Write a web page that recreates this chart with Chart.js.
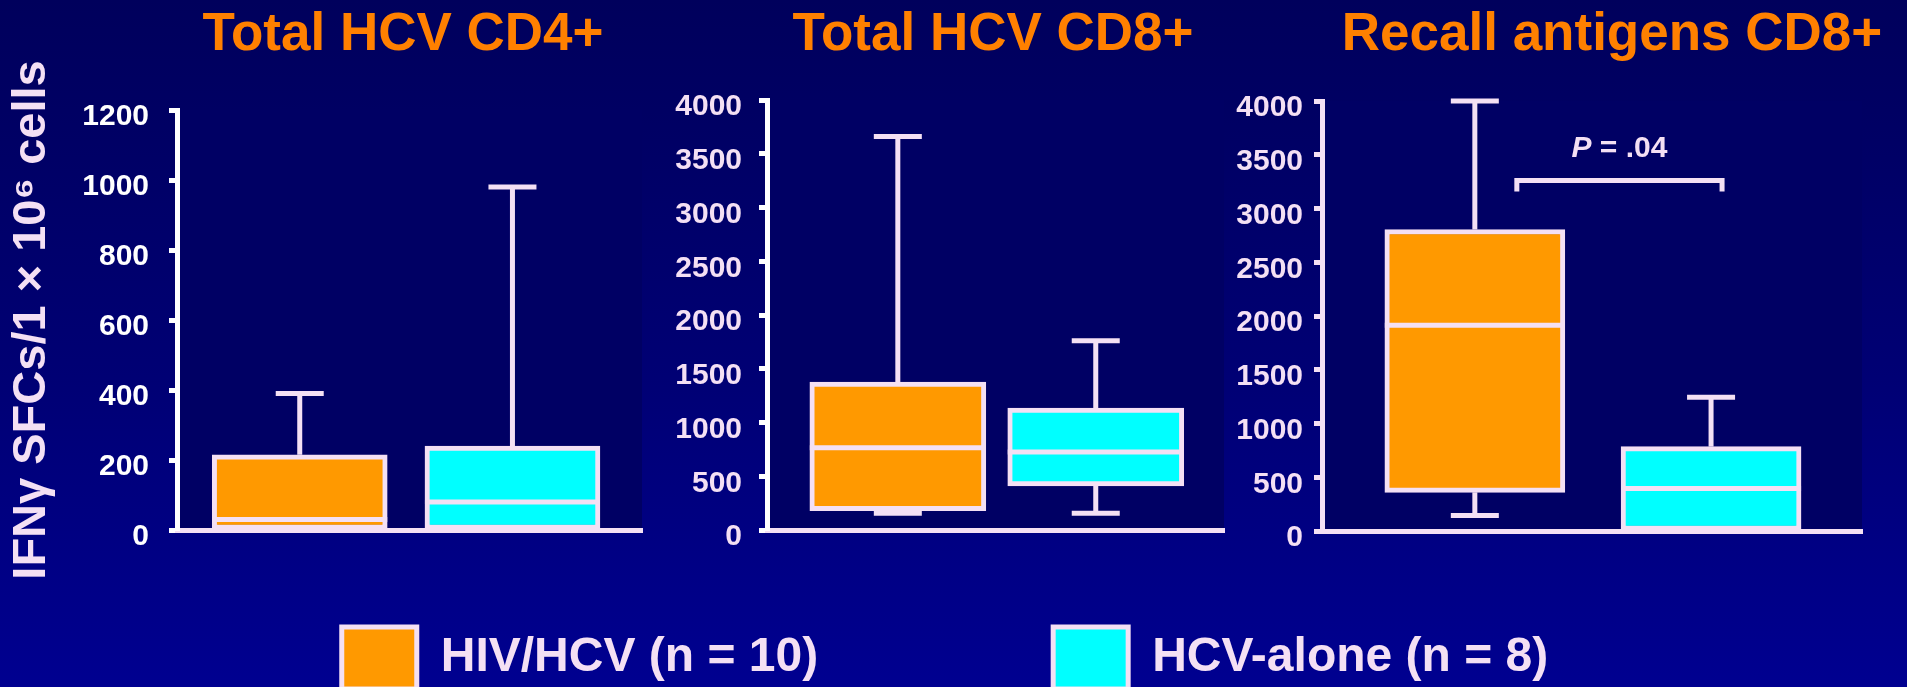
<!DOCTYPE html>
<html>
<head>
<meta charset="utf-8">
<title>IFN-gamma SFCs box plots</title>
<script src="https://cdn.jsdelivr.net/npm/chart.js@4.4.1/dist/chart.umd.min.js"></script>
<style>
  html, body {
    margin: 0;
    width: 1907px;
    height: 687px;
    overflow: hidden;
    background: linear-gradient(to bottom, #00005c 0%, #000074 55%, #000090 100%);
  }
  canvas { position: absolute; }
</style>
</head>
<body>
<canvas id="cd4" width="806" height="687" style="left:0;top:0"></canvas>
<canvas id="cd8" width="666" height="687" style="left:660px;top:0"></canvas>
<canvas id="recall" width="774" height="687" style="left:1225px;top:0"></canvas>
<canvas id="legend" width="1890" height="1200" style="left:0;top:392px"></canvas>
<script>
const groups = ['HIV/HCV (n = 10)', 'HCV-alone (n = 8)'];
const titles = ['Total HCV CD4+', 'Total HCV CD8+', 'Recall antigens CD8+'];
const yLabel = 'IFN\u03b3 SFCs/1 \u00d7 10\u2076 cells';

// box stats: [min, q1, median, q3, max]
const cd4HivHcv = [0, 0, 30, 215, 390];
const cd4HcvAlone = [0, 0, 80, 240, 980];
const cd8HivHcv = [155, 180, 765, 1375, 3660];
const cd8HcvAlone = [155, 410, 725, 1135, 1760];
const recallHivHcv = [145, 360, 1915, 2805, 4000];
const recallHcvAlone = [0, 0, 395, 785, 1245];

const yMax = [1200, 4000, 4000];
const yStep = [200, 500, 500];

// significance bracket on the recall panel
const pLabel = ' = .04';
const pBracketAt = 3260;

const ORANGE = '#ff9900';
const CYAN = '#00ffff';
const LINE = '#f4e0f4';
const TITLE = '#ff8000';
const PLOT_BG = '#000064';
const FONT = 'Arial, "Liberation Sans", Helvetica, sans-serif';
const TITLE_SIZE = 53;

const boxPlot = {
    id: 'boxPlot',
    beforeDraw(chart) {
        const a = chart.chartArea;
        const ctx = chart.ctx;
        ctx.save();
        ctx.fillStyle = PLOT_BG;
        ctx.fillRect(a.left, a.top, a.right - a.left, a.bottom - a.top);
        ctx.restore();
    },
    afterDatasetsDraw(chart) {
        const ctx = chart.ctx;
        const y = chart.scales.y;
        ctx.save();
        ctx.strokeStyle = LINE;
        ctx.lineWidth = 5;
        ctx.lineCap = 'butt';
        chart.data.datasets.forEach((ds, i) => {
            const bar = chart.getDatasetMeta(i).data[0];
            const s = ds.stats;
            const cx = bar.x;
            const half = bar.width / 2;
            const line = (x1, y1, x2, y2) => {
                ctx.beginPath();
                ctx.moveTo(x1, y1);
                ctx.lineTo(x2, y2);
                ctx.stroke();
            };
            // median
            const med = y.getPixelForValue(s[2]);
            line(cx - half, med, cx + half, med);
            // upper whisker
            if (s[4] > s[3]) {
                const top = y.getPixelForValue(s[4]);
                line(cx, y.getPixelForValue(s[3]), cx, top);
                line(cx - 24, top, cx + 24, top);
            }
            // lower whisker
            if (s[0] < s[1]) {
                const bot = y.getPixelForValue(s[0]);
                line(cx, y.getPixelForValue(s[1]), cx, bot);
                line(cx - 24, bot, cx + 24, bot);
            }
        });
        ctx.restore();
    }
};

const pValue = {
    id: 'pValue',
    afterDatasetsDraw(chart) {
        const ctx = chart.ctx;
        const x = chart.scales.x, y = chart.scales.y;
        const l = x.getPixelForValue(0) + 42;
        const r = x.getPixelForValue(1) + 11;
        const yy = y.getPixelForValue(pBracketAt);
        ctx.save();
        ctx.strokeStyle = LINE;
        ctx.lineWidth = 5;
        ctx.beginPath();
        ctx.moveTo(l, yy + 11);
        ctx.lineTo(l, yy);
        ctx.lineTo(r, yy);
        ctx.lineTo(r, yy + 11);
        ctx.stroke();

        ctx.fillStyle = LINE;
        ctx.textBaseline = 'middle';
        ctx.textAlign = 'left';
        ctx.font = 'italic bold 30px ' + FONT;
        const wP = ctx.measureText('P').width;
        ctx.font = 'bold 30px ' + FONT;
        const wRest = ctx.measureText(pLabel).width;
        let tx = (l + r) / 2 - (wP + wRest) / 2;
        ctx.font = 'italic bold 30px ' + FONT;
        ctx.fillText('P', tx, yy - 32);
        ctx.font = 'bold 30px ' + FONT;
        ctx.fillText(pLabel, tx + wP, yy - 32);
        ctx.restore();
    }
};

function makePanel(id, p) {
    const yAxis = {
        min: 0,
        max: p.yMax,
        afterFit: s => { s.width = p.yW; },
        ticks: {
            stepSize: p.yStep,
            color: p.tickColor,
            padding: p.tickPad,
            labelOffset: 7,
            font: { family: FONT, size: 30, weight: 'bold' },
            callback: v => String(v)
        },
        grid: { drawOnChartArea: false, drawTicks: true, tickLength: 8, tickWidth: 5, tickColor: p.axisColor },
        border: { display: true, color: p.axisColor, width: 5 }
    };
    if (p.yTitle) {
        yAxis.title = {
            display: true,
            text: p.yTitle,
            color: LINE,
            padding: { top: 4, bottom: 0 },
            font: { family: FONT, size: 47, weight: 'bold' }
        };
    }

    return new Chart(document.getElementById(id), {
        type: 'bar',
        data: {
            datasets: p.stats.map((s, i) => ({
                label: groups[i],
                data: [{ x: i, y: [s[1], s[3]] }],
                stats: s,
                backgroundColor: i ? CYAN : ORANGE,
                borderColor: LINE,
                borderWidth: 5,
                borderSkipped: false,
                barThickness: p.barW,
                grouped: false
            }))
        },
        options: {
            responsive: false,
            animation: false,
            events: [],
            layout: { padding: { bottom: 687 - p.bottom } },
            plugins: {
                legend: { display: false },
                tooltip: { enabled: false },
                title: {
                    display: true,
                    text: p.title,
                    color: TITLE,
                    font: { family: FONT, size: TITLE_SIZE, weight: 'bold' },
                    padding: { top: 4, bottom: p.top - 4 - TITLE_SIZE * 1.2 }
                }
            },
            scales: {
                x: {
                    type: 'linear',
                    min: p.xMin,
                    max: p.xMax,
                    offset: false,
                    afterFit: s => { s.height = 0; },
                    ticks: { display: false },
                    grid: { display: false },
                    border: { display: true, color: LINE, width: 5 }
                },
                y: yAxis,
                // empty right-hand strip so the centred title lands where the slide has it
                yr: {
                    position: 'right',
                    afterFit: s => { s.width = p.rightW; },
                    ticks: { display: false },
                    grid: { display: false },
                    border: { display: false }
                }
            }
        },
        plugins: p.extra ? [boxPlot, p.extra] : [boxPlot]
    });
}

makePanel('cd4', {
    title: titles[0], stats: [cd4HivHcv, cd4HcvAlone],
    yMax: yMax[0], yStep: yStep[0], yTitle: yLabel,
    yW: 177, rightW: 164, top: 110, bottom: 530,
    xMin: -0.577, xMax: 1.609, barW: 175,
    tickColor: '#ffffff', axisColor: '#ffffff', tickPad: 20
});

makePanel('cd8', {
    title: titles[1], stats: [cd8HivHcv, cd8HcvAlone],
    yMax: yMax[1], yStep: yStep[1],
    yW: 107, rightW: 102, top: 100, bottom: 530,
    xMin: -0.661, xMax: 1.648, barW: 176,
    tickColor: LINE, axisColor: '#ffffff', tickPad: 17
});

makePanel('recall', {
    title: titles[2], stats: [recallHivHcv, recallHcvAlone],
    yMax: yMax[2], yStep: yStep[2],
    yW: 97, rightW: 137, top: 101, bottom: 531,
    xMin: -0.647, xMax: 1.639, barW: 180,
    tickColor: LINE, axisColor: LINE, tickPad: 11, extra: pValue
});

new Chart(document.getElementById('legend'), {
    type: 'bar',
    data: {
        datasets: groups.map((g, i) => ({
            label: g,
            data: [],
            backgroundColor: i ? CYAN : ORANGE,
            borderColor: LINE,
            borderWidth: 5
        }))
    },
    options: {
        responsive: false,
        animation: false,
        events: [],
        scales: { x: { display: false }, y: { display: false } },
        plugins: {
            tooltip: { enabled: false },
            legend: {
                position: 'top',
                labels: {
                    boxWidth: 75,
                    boxHeight: 62,
                    padding: 235,
                    color: LINE,
                    font: { family: FONT, size: 48, weight: 'bold' }
                }
            }
        }
    }
});
</script>
</body>
</html>
